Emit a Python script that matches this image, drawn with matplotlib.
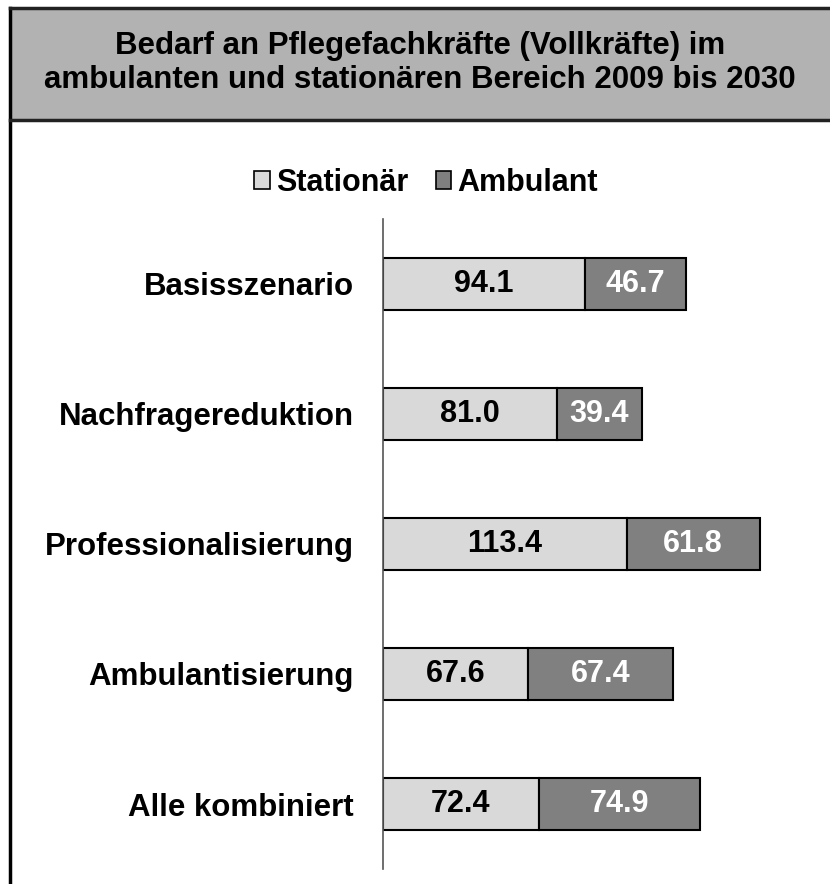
import matplotlib

matplotlib.use("Agg")
import matplotlib.pyplot as plt
from matplotlib.patches import Patch, Rectangle
from matplotlib.lines import Line2D

plt.rcParams["font.family"] = ["Liberation Sans", "DejaVu Sans"]
plt.rcParams["font.weight"] = "bold"

TITLE = "Bedarf an Pflegefachkräfte (Vollkräfte) im\nambulanten und stationären Bereich 2009 bis 2030"
categories = ["Basisszenario", "Nachfragereduktion", "Professionalisierung",
              "Ambulantisierung", "Alle kombiniert"]
stationaer = [94.1, 81.0, 113.4, 67.6, 72.4]
ambulant = [46.7, 39.4, 61.8, 67.4, 74.9]
series_names = ["Stationär", "Ambulant"]

C_STAT = "#d9d9d9"
C_AMB = "#808080"

fig = plt.figure(figsize=(8.30, 8.84), dpi=100)
W, H = 830, 884

# Titelkasten (grau) mit Rahmen oben/links und Linie unten
fig.patches.append(Rectangle((10 / W, 1 - 120 / H), 1 - 10 / W, 112 / H,
                             transform=fig.transFigure, facecolor="#b2b2b2",
                             edgecolor="none", zorder=0))
fig.lines.append(Line2D([10 / W, 10 / W], [0, 1 - 8 / H], transform=fig.transFigure,
                        color="black", lw=2.5))
fig.lines.append(Line2D([10 / W, 1], [1 - 8 / H, 1 - 8 / H], transform=fig.transFigure,
                        color="#222222", lw=2.5))
fig.lines.append(Line2D([10 / W, 1], [1 - 120 / H, 1 - 120 / H], transform=fig.transFigure,
                        color="#222222", lw=2.5))
fig.text(420 / W, 1 - 63 / H, TITLE, ha="center", va="center", fontsize=22.5,
         fontweight="bold", linespacing=1.15)

ax = fig.add_axes([383 / W, 15 / H, 430 / W, 650 / H])
y = list(range(len(categories)))
b1 = ax.barh(y, stationaer, height=0.4, color=C_STAT, edgecolor="black", lw=1.5)
b2 = ax.barh(y, ambulant, left=stationaer, height=0.4, color=C_AMB, edgecolor="black", lw=1.5)
ax.bar_label(b1, labels=[f"{v:.1f}" for v in stationaer], label_type="center",
             fontsize=22, fontweight="bold", color="black")
ax.bar_label(b2, labels=[f"{v:.1f}" for v in ambulant], label_type="center",
             fontsize=22, fontweight="bold", color="white")

ax.set_xlim(0, 200)
ax.set_ylim(len(categories) - 0.5, -0.5)
ax.set_yticks(y)
ax.set_yticklabels(categories, fontsize=22.5, fontweight="bold")
ax.tick_params(axis="y", length=0, pad=21)
ax.set_xticks([])
for s in ["top", "right", "bottom"]:
    ax.spines[s].set_visible(False)
ax.spines["left"].set_color("#555555")
ax.spines["left"].set_linewidth(1.2)

handles = [Patch(facecolor=C_STAT, edgecolor="black", lw=1.2),
           Patch(facecolor=C_AMB, edgecolor="black", lw=1.2)]
fig.legend(handles, series_names, loc="center", bbox_to_anchor=(426 / W, 1 - 183 / H),
           ncol=2, frameon=False, prop={"size": 22, "weight": "bold"},
           handlelength=0.5, handleheight=0.5, handletextpad=0.2, columnspacing=0.9)

fig.savefig("out.png", dpi=100)
